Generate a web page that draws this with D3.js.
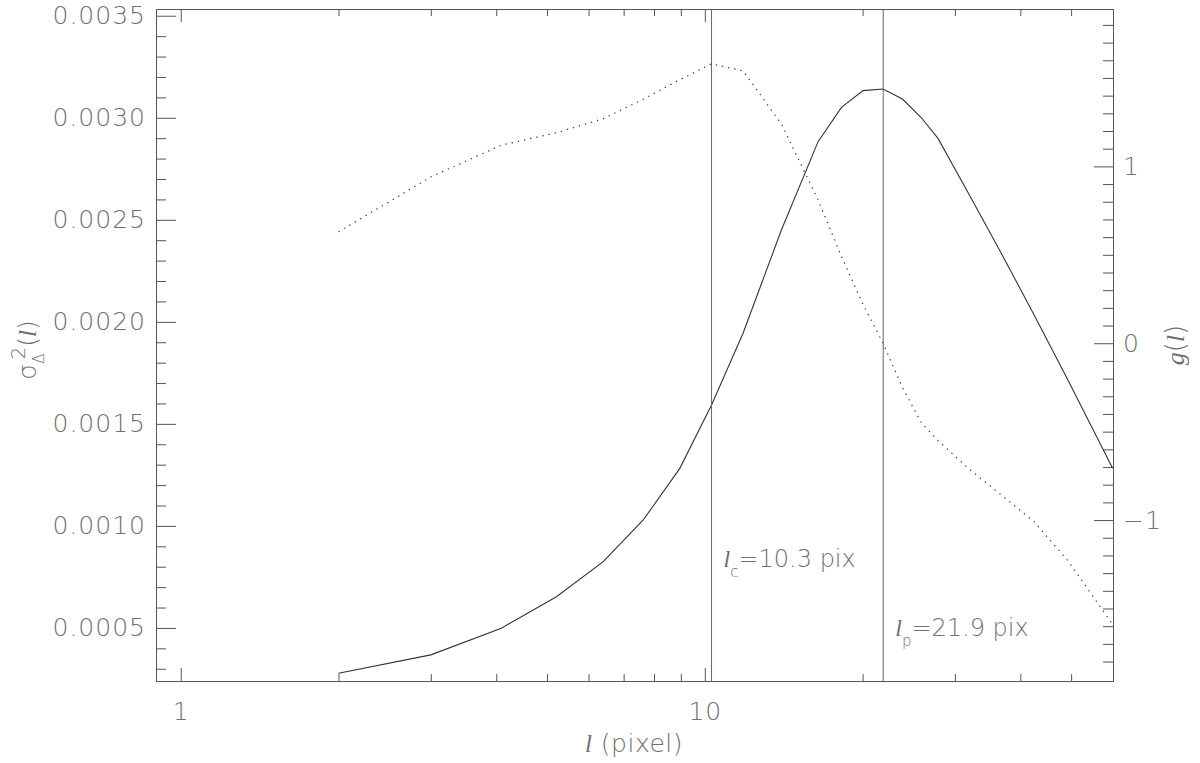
<!DOCTYPE html>
<html>
<head>
<meta charset="utf-8">
<script src="https://cdn.jsdelivr.net/npm/d3@7"></script>
<style>
  body { margin: 0; background: #fff; }
  svg { display: block; }
  .lbl { font-family: "DejaVu Sans", sans-serif; font-weight: 200; fill: #707070; }
  .ital { font-family: "Liberation Serif", "DejaVu Serif", serif; font-style: italic; font-weight: normal; }
</style>
</head>
<body>
<svg id="chart"></svg>
<script>
// Set dimensions
const width = 1200;
const height = 763;
const plot = { left: 156, right: 1113, top: 9, bottom: 681 };

// Data (l in pixel)
const lVals  = [2, 3, 4.09, 5.21, 6.4, 7.63, 8.96, 10.3, 11.83, 14.0, 16.45, 18.23,
                20.04, 21.88, 23.83, 25.9, 27.86, 31.9, 36.5, 42.5, 49.3, 60];
const sigma2 = [0.000278, 0.000368, 0.000499, 0.000653, 0.000825, 0.001029, 0.001282,
                0.001593, 0.001944, 0.002450, 0.002883, 0.003051, 0.003133, 0.003141,
                0.003092, 0.003000, 0.002899, 0.002626, 0.002352, 0.002034, 0.001715, 0.001282];
const gVals  = [0.63, 0.94, 1.12, 1.19, 1.27, 1.38, 1.49, 1.58, 1.54, 1.24, 0.81, 0.49,
                0.22, 0.00, -0.25, -0.45, -0.55, -0.71, -0.85, -1.01, -1.23, -1.59];

// marker lines
const markers = [
  { l: 10.3, sub: "c", text: "=10.3  pix", ty: 567 },
  { l: 21.9, sub: "p", text: "=21.9  pix", ty: 636 }
];

// tick values
const xMajor = [1, 10];
const xMinor = [2, 3, 4, 5, 6, 7, 8, 9, 20, 30, 40, 50];
const leftMajor = [0.0005, 0.0010, 0.0015, 0.0020, 0.0025, 0.0030, 0.0035];
const rightMajor = [-1, 0, 1];

const svg = d3.select("#chart")
    .attr("width", width)
    .attr("height", height);

// scales
const x = d3.scaleLog().domain([0.897, 60.1]).range([plot.left, plot.right]);
const yL = d3.scaleLinear().domain([0.00024, 0.003533]).range([plot.bottom, plot.top]);
const yR = d3.scaleLinear().domain([-1.91, 1.89]).range([plot.bottom, plot.top]);

const leftMinor = d3.range(3, 36).filter(d => d % 5 !== 0).map(d => d / 10000);
const rightMinor = d3.range(-18, 19).filter(d => d % 10 !== 0).map(d => d / 10);

function styleAxis(g) {
  g.select(".domain").attr("stroke", "#555").attr("stroke-width", 1);
  g.selectAll(".tick line").attr("stroke", "#555").attr("stroke-width", 1);
  g.selectAll(".tick text").attr("class", "lbl").attr("fill", null)
      .style("font-size", "25px").style("letter-spacing", "1px");
  g.attr("font-family", null).attr("font-size", null);
}

// bottom axis
svg.append("g")
    .attr("transform", `translate(0,${plot.bottom})`)
    .call(d3.axisBottom(x).tickValues(xMajor).tickSize(-13).tickPadding(21).tickFormat(d3.format("d")))
    .call(styleAxis);
svg.append("g")
    .attr("transform", `translate(0,${plot.bottom})`)
    .call(d3.axisBottom(x).tickValues(xMinor).tickSize(-7).tickFormat(""))
    .call(g => g.select(".domain").remove())
    .call(styleAxis);

// top axis
svg.append("g")
    .attr("transform", `translate(0,${plot.top})`)
    .call(d3.axisTop(x).tickValues(xMajor).tickSize(-13).tickFormat(""))
    .call(styleAxis);
svg.append("g")
    .attr("transform", `translate(0,${plot.top})`)
    .call(d3.axisTop(x).tickValues(xMinor).tickSize(-7).tickFormat(""))
    .call(g => g.select(".domain").remove())
    .call(styleAxis);

// left axis
svg.append("g")
    .attr("transform", `translate(${plot.left},0)`)
    .call(d3.axisLeft(yL).tickValues(leftMajor).tickSize(-20).tickPadding(10).tickFormat(d3.format(".4f")))
    .call(styleAxis);
svg.append("g")
    .attr("transform", `translate(${plot.left},0)`)
    .call(d3.axisLeft(yL).tickValues(leftMinor).tickSize(-10).tickFormat(""))
    .call(g => g.select(".domain").remove())
    .call(styleAxis);

// right axis
svg.append("g")
    .attr("transform", `translate(${plot.right},0)`)
    .call(d3.axisRight(yR).tickValues(rightMajor).tickSize(-19).tickPadding(10).tickFormat(d3.format("d")))
    .call(styleAxis);
svg.append("g")
    .attr("transform", `translate(${plot.right},0)`)
    .call(d3.axisRight(yR).tickValues(rightMinor).tickSize(-10).tickFormat(""))
    .call(g => g.select(".domain").remove())
    .call(styleAxis);

// curves
const lineL = d3.line().x((d, i) => x(lVals[i])).y(d => yL(d));
const lineR = d3.line().x((d, i) => x(lVals[i])).y(d => yR(d));

svg.append("path")
    .datum(sigma2)
    .attr("d", lineL)
    .attr("fill", "none")
    .attr("stroke", "#333")
    .attr("stroke-width", 1.1);

svg.append("path")
    .datum(gVals)
    .attr("d", lineR)
    .attr("fill", "none")
    .attr("stroke", "#333")
    .attr("stroke-width", 1.2)
    .attr("stroke-dasharray", "1.3,5");

// vertical markers and labels
markers.forEach(m => {
  svg.append("line")
      .attr("x1", x(m.l)).attr("x2", x(m.l))
      .attr("y1", plot.top).attr("y2", plot.bottom)
      .attr("stroke", "#666")
      .attr("stroke-width", 1);

  const t = svg.append("text")
      .attr("class", "lbl")
      .attr("x", x(m.l) + 12)
      .attr("y", m.ty)
      .style("font-size", "24px");
  t.append("tspan").attr("class", "ital").text("l");
  t.append("tspan").attr("dy", 10).style("font-size", "15px").text(m.sub);
  t.append("tspan").attr("dy", -10).text(m.text);
});

// x title
const xt = svg.append("text")
    .attr("class", "lbl")
    .attr("x", 634)
    .attr("y", 752)
    .attr("text-anchor", "middle")
    .style("font-size", "25px")
    .style("letter-spacing", "0.5px");
xt.append("tspan").attr("class", "ital").text("l");
xt.append("tspan").text("  (pixel)");

// left y title
const yt = svg.append("text")
    .attr("class", "lbl")
    .attr("transform", "translate(36,350) rotate(-90)")
    .attr("text-anchor", "middle")
    .style("font-size", "25px");
yt.append("tspan").text("σ");
yt.append("tspan").attr("dy", 8).style("font-size", "15px").text("Δ");
yt.append("tspan").attr("dy", -19).attr("dx", -6).style("font-size", "20px").text("2");
yt.append("tspan").attr("dy", 11).text("(");
yt.append("tspan").attr("class", "ital").text("l");
yt.append("tspan").text(")");

// right y title
const rt = svg.append("text")
    .attr("class", "lbl")
    .attr("transform", "translate(1184,345) rotate(-90)")
    .attr("text-anchor", "middle")
    .style("font-size", "26px");
rt.append("tspan").attr("class", "ital").text("g");
rt.append("tspan").text("(");
rt.append("tspan").attr("class", "ital").text("l");
rt.append("tspan").text(")");
</script>
</body>
</html>
